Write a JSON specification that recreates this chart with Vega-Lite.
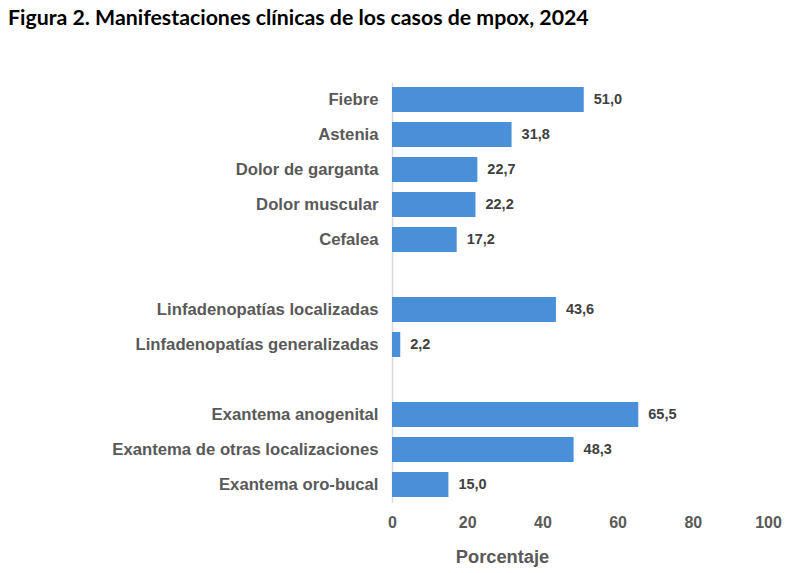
{
  "$schema": "https://vega.github.io/schema/vega-lite/v6.json",
  "autosize": "none",
  "width": 376,
  "height": 420,
  "padding": {"left": 392, "top": 82, "right": 35, "bottom": 71},
  "background": "white",
  "config": {
    "view": {"stroke": null},
    "locale": {"number": {"decimal": ",", "thousands": ".", "grouping": [3], "currency": ["", " €"]}}
  },
  "title": {
    "text": "Figura 2. Manifestaciones clínicas de los casos de mpox, 2024",
    "anchor": "start",
    "frame": "group",
    "dx": -384,
    "offset": 53,
    "font": "Lato",
    "fontSize": 21.3,
    "fontWeight": "bold",
    "color": "#000000"
  },
  "data": {
    "values": [
      {"sintoma": "Fiebre", "porcentaje": 51.0},
      {"sintoma": "Astenia", "porcentaje": 31.8},
      {"sintoma": "Dolor de garganta", "porcentaje": 22.7},
      {"sintoma": "Dolor muscular", "porcentaje": 22.2},
      {"sintoma": "Cefalea", "porcentaje": 17.2},
      {"sintoma": "Linfadenopatías localizadas", "porcentaje": 43.6},
      {"sintoma": "Linfadenopatías generalizadas", "porcentaje": 2.2},
      {"sintoma": "Exantema anogenital", "porcentaje": 65.5},
      {"sintoma": "Exantema de otras localizaciones", "porcentaje": 48.3},
      {"sintoma": "Exantema oro-bucal", "porcentaje": 15.0}
    ]
  },
  "encoding": {
    "y": {
      "field": "sintoma",
      "type": "nominal",
      "sort": null,
      "scale": {
        "domain": ["Fiebre", "Astenia", "Dolor de garganta", "Dolor muscular", "Cefalea", "gap1", "Linfadenopatías localizadas", "Linfadenopatías generalizadas", "gap2", "Exantema anogenital", "Exantema de otras localizaciones", "Exantema oro-bucal"],
        "paddingInner": 0.286,
        "paddingOuter": 0.143
      },
      "axis": {
        "title": null,
        "ticks": false,
        "domainColor": "#d9d9d9",
        "domainWidth": 1.5,
        "labelExpr": "indexof(datum.value, 'gap') == 0 ? '' : datum.value",
        "labelFont": "Liberation Sans",
        "labelFontSize": 16.7,
        "labelFontWeight": "bold",
        "labelColor": "#595959",
        "labelPadding": 14,
        "labelLimit": 400
      }
    },
    "x": {
      "field": "porcentaje",
      "type": "quantitative",
      "scale": {"domain": [0, 100], "nice": false},
      "axis": {
        "title": "Porcentaje",
        "values": [0, 20, 40, 60, 80, 100],
        "domain": false,
        "ticks": false,
        "grid": false,
        "labelFont": "Liberation Sans",
        "labelFontSize": 16,
        "labelFontWeight": "bold",
        "labelColor": "#595959",
        "labelPadding": 12,
        "labelFlush": false,
        "titleFont": "Liberation Sans",
        "titleFontSize": 18.3,
        "titleFontWeight": "bold",
        "titleColor": "#595959",
        "titleX": 110,
        "titleAlign": "center",
        "titlePadding": 18
      }
    }
  },
  "layer": [
    {"mark": {"type": "bar", "color": "#4a90d9"}},
    {
      "mark": {"type": "text", "align": "left", "baseline": "middle", "dx": 10, "font": "Liberation Sans", "fontSize": 14.5, "fontWeight": "bold", "color": "#404040"},
      "encoding": {"text": {"field": "porcentaje", "type": "quantitative", "format": ".1f"}}
    }
  ]
}
